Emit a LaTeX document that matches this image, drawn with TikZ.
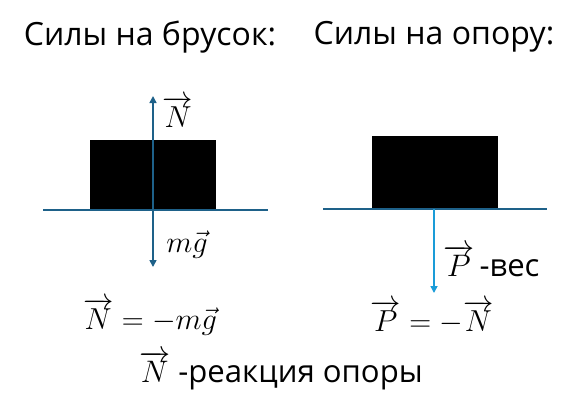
\documentclass[tikz,border=0pt]{standalone}
\usepackage{fontspec}
\setmainfont{Open Sans}
\usetikzlibrary{arrows.meta}
\definecolor{darkb}{HTML}{1E6189}
\definecolor{lightb}{HTML}{1A9CD8}
\newcommand{\vv}[1]{\overrightarrow{#1}}
\begin{document}
\begin{tikzpicture}[x=1pt,y=-1pt,
  title/.style={font=\fontsize{32}{38}\selectfont,inner sep=0pt},
  lab/.style={font=\fontsize{24.88}{30}\selectfont,inner sep=0pt,scale=1.22},
  txt/.style={font=\fontsize{24.88}{30}\selectfont,inner sep=0pt,scale=1.25},
  block/.style={fill=black,draw=none},
  ground/.style={draw=darkb,line width=1.6pt},
  force/.style={line width=1.6pt,-{Triangle[length=7pt,width=7pt]}}]
\useasboundingbox (0,0) rectangle (578,413);
% titles
\node[title] (t1) at (150,37) {Силы на брусок:};
\node[title] (t2) at (434,37) {Силы на опору:};
% left block
\fill[block] (90,140) rectangle (216,211);
\coordinate (gl1) at (43,210);
\coordinate (gl2) at (268,210);
\draw[ground] (gl1) -- (gl2);
\coordinate (c1) at (153,176);
\coordinate (nT) at (153,96);
\coordinate (mgB) at (153,267);
\draw[force,darkb] (c1) -- (nT);
\draw[force,darkb] (c1) -- (mgB);
\node[lab] (N1) at (178,112) {$\vv{N}$};
\node[lab] (mg) at (187,245) {$m\vec{g}$};
% right block
\fill[block] (372,136) rectangle (498,209);
\coordinate (gr1) at (323,209);
\coordinate (gr2) at (547,209);
\draw[ground] (gr1) -- (gr2);
\coordinate (p0) at (434,209);
\coordinate (p1) at (434,293);
\draw[force,lightb] (p0) -- (p1);
\node[txt,anchor=west] (P) at (443,261) {$\vv{P}$\,-вес};
% equations
\node[lab] (eq1) at (150,317) {$\vv{N}=-m\vec{g}$};
\node[lab] (eq2) at (432,317) {$\vv{P}=-\vv{N}$};
\node[txt] (eq3) at (281,371) {$\vv{N}$ -реакция опоры};
\end{tikzpicture}
\end{document}
